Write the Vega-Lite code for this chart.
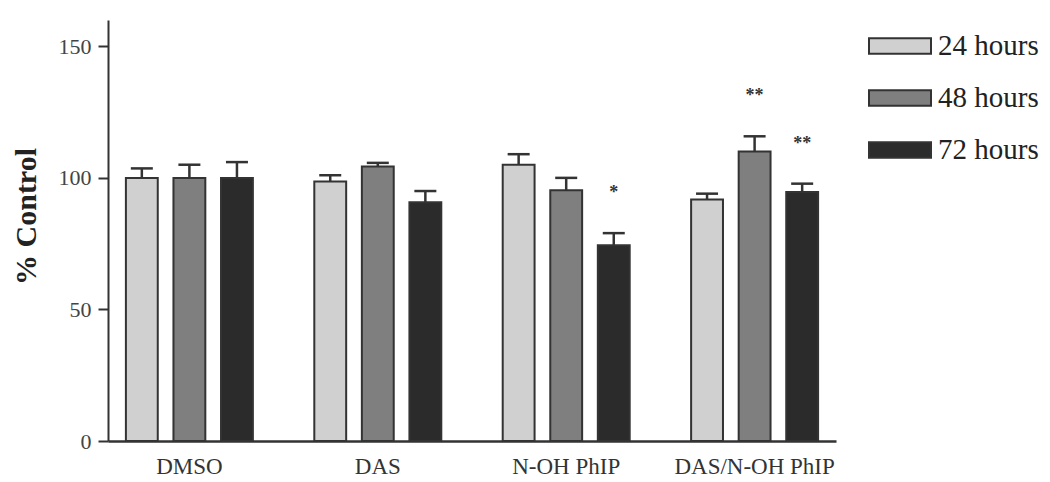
{
  "$schema": "https://vega.github.io/schema/vega-lite/v6.json",
  "width": 728,
  "height": 421,
  "autosize": {"type": "none"},
  "padding": {"left": 108, "top": 20, "right": 214, "bottom": 41},
  "background": "white",
  "config": {"view": {"stroke": null}, "font": "Liberation Serif"},
  "data": {
    "values": [
      {"group": "DMSO", "time": "24 hours", "value": 100, "upper": 103.6, "sig": ""},
      {"group": "DMSO", "time": "48 hours", "value": 100, "upper": 105, "sig": ""},
      {"group": "DMSO", "time": "72 hours", "value": 100, "upper": 106, "sig": ""},
      {"group": "DAS", "time": "24 hours", "value": 98.6, "upper": 101, "sig": ""},
      {"group": "DAS", "time": "48 hours", "value": 104.3, "upper": 105.7, "sig": ""},
      {"group": "DAS", "time": "72 hours", "value": 90.7, "upper": 95, "sig": ""},
      {"group": "N-OH PhIP", "time": "24 hours", "value": 105, "upper": 109, "sig": ""},
      {"group": "N-OH PhIP", "time": "48 hours", "value": 95.3, "upper": 100, "sig": ""},
      {"group": "N-OH PhIP", "time": "72 hours", "value": 74.4, "upper": 79, "sig": "*"},
      {"group": "DAS/N-OH PhIP", "time": "24 hours", "value": 91.8, "upper": 94, "sig": ""},
      {"group": "DAS/N-OH PhIP", "time": "48 hours", "value": 110, "upper": 115.8, "sig": "**"},
      {"group": "DAS/N-OH PhIP", "time": "72 hours", "value": 94.6, "upper": 97.8, "sig": "**"}
    ]
  },
  "encoding": {
    "x": {
      "field": "group", "type": "nominal",
      "sort": ["DMSO", "DAS", "N-OH PhIP", "DAS/N-OH PhIP"],
      "scale": {"paddingInner": 0.326, "paddingOuter": 0.095},
      "axis": {"title": null, "labelAngle": 0, "ticks": false, "labelFont": "Liberation Serif", "labelFontSize": 23, "labelColor": "#333", "labelPadding": 14, "domainColor": "#333", "domainWidth": 2.5}
    },
    "xOffset": {
      "field": "time", "type": "nominal",
      "sort": ["24 hours", "48 hours", "72 hours"],
      "scale": {"paddingInner": 0.33, "paddingOuter": 0}
    }
  },
  "layer": [
    {
      "mark": {"type": "bar", "stroke": "#333", "strokeWidth": 2},
      "encoding": {
        "y": {
          "field": "value", "type": "quantitative",
          "scale": {"domain": [0, 150]},
          "axis": {"title": "% Control", "titleFontSize": 30, "titleFont": "Liberation Serif", "titleFontWeight": "bold", "titleColor": "#222", "titlePadding": 17, "titleY": 196, "values": [0, 50, 100, 150], "grid": false, "labelFont": "Liberation Serif", "labelFontSize": 22, "labelColor": "#444", "tickSize": 10, "tickColor": "#333", "tickWidth": 2, "domainColor": "#333", "domainWidth": 2, "labelPadding": 7}
        },
        "color": {
          "field": "time", "type": "nominal",
          "sort": ["24 hours", "48 hours", "72 hours"],
          "scale": {"range": ["#d0d0d0", "#7f7f7f", "#2b2b2b"]},
          "legend": {"orient": "none", "legendX": 760, "legendY": -6, "title": null, "symbolType": "M-1,-0.25H1V0.25H-1Z", "symbolSize": 3844, "symbolStrokeColor": "#333", "symbolStrokeWidth": 2, "symbolOpacity": 1, "labelFontSize": 29, "labelFont": "Liberation Serif", "labelColor": "#222", "rowPadding": 5, "labelOffset": 6}
        }
      }
    },
    {
      "mark": {"type": "rule", "strokeWidth": 2.5, "color": "#333"},
      "encoding": {
        "y": {"field": "value", "type": "quantitative"},
        "y2": {"field": "upper"}
      }
    },
    {
      "mark": {"type": "tick", "thickness": 2.5, "size": 22, "color": "#333", "opacity": 1},
      "encoding": {
        "y": {"field": "upper", "type": "quantitative"}
      }
    },
    {
      "mark": {"type": "text", "dy": -40, "fontSize": 18, "fontWeight": "bold", "color": "#333"},
      "encoding": {
        "y": {"field": "upper", "type": "quantitative"},
        "text": {"field": "sig"}
      }
    }
  ]
}
